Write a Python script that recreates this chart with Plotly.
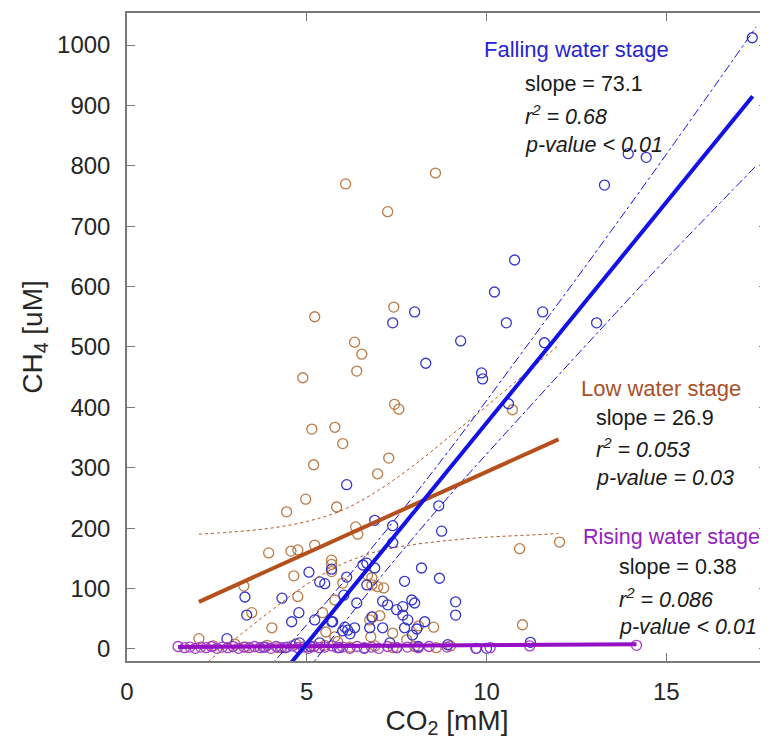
import plotly.graph_objects as go

# ---------------- data ----------------
fall_x = [17.39, 13.94, 14.44, 13.28, 10.78, 10.22, 10.55, 11.56, 13.06, 8.0, 7.39, 8.31, 9.28, 9.86,
          9.89, 11.61, 10.61, 6.11, 8.67, 8.75, 6.89, 7.39, 7.39, 8.19, 8.69, 7.72, 6.67, 6.89, 6.56,
          5.69, 5.06, 6.11, 5.36, 5.5, 6.67, 4.31, 3.28, 3.33, 4.78, 4.58, 5.22, 5.72, 6.03, 6.39,
          7.11, 7.25, 7.5, 7.67, 7.92, 8.0, 9.14, 9.14, 7.67, 7.81, 8.28, 8.06, 7.94, 7.72, 7.11,
          6.81, 6.75, 6.06, 6.14, 6.33, 5.69, 7.31, 2.78, 4.8, 5.36, 8.92, 9.72, 10.0, 11.22, 6.2,
          6.0, 3.8, 4.4, 5.1, 5.9, 6.6, 7.5, 8.1]
fall_y = [1012, 820, 814, 768, 644, 591, 540, 558, 540, 558, 540, 473, 510, 457,
          447, 507, 406, 272, 237, 195, 213, 204, 176, 134, 117, 112, 142, 134, 139,
          132, 127, 119, 111, 108, 106, 84, 86, 56, 60, 45, 48, 45, 89, 76,
          79, 73, 65, 70, 81, 76, 78, 56, 56, 48, 45, 33, 23, 35, 35,
          53, 35, 36, 31, 35, 45, 10, 17, 10, 10, 7, 1, 1, 11, 25,
          30, 3, 2, 4, 2, 1, 2, 4]

low_x = [6.08, 7.25, 8.58, 5.22, 7.42, 6.33, 6.53, 6.39, 4.89, 7.44, 7.56, 5.14, 5.78, 6.0, 5.19,
         7.28, 6.97, 4.97, 5.83, 4.44, 6.36, 6.42, 3.94, 4.56, 4.75, 5.22, 5.69, 5.69, 5.69, 4.64,
         3.25, 4.75, 3.47, 5.44, 4.03, 2.0, 6.0, 5.78, 6.69, 6.81, 6.81, 6.97, 7.14, 6.75, 6.83,
         7.03, 6.78, 7.39, 7.78, 8.11, 8.53, 5.78, 5.53, 5.86, 10.72, 10.92, 12.03, 11.0,
         2.4, 3.0, 3.3, 3.9, 4.2, 4.7, 5.0, 5.5, 6.2, 6.9, 7.4, 8.0, 8.6, 9.0]
low_y = [770, 724, 788, 550, 566, 508, 488, 460, 449, 405, 397, 364, 367, 340, 305,
         316, 290, 248, 235, 227, 202, 190, 159, 162, 164, 172, 147, 140, 128, 121,
         104, 87, 60, 60, 35, 17, 109, 81, 122, 118, 106, 103, 101, 48, 53,
         55, 20, 26, 15, 38, 36, 20, 28, 12, 396, 166, 177, 40,
         5, 8, 3, 6, 2, 8, 3, 6, 3, 5, 2, 4, 2, 5]

rise_x = [1.42, 1.6, 1.75, 1.9, 2.05, 2.2, 2.35, 2.5, 2.65, 2.8, 2.95, 3.1, 3.25, 3.4, 3.55, 3.7,
          3.85, 4.0, 4.15, 4.3, 4.45, 4.6, 4.75, 4.9, 5.05, 5.2, 5.35, 5.5, 5.7, 5.85, 6.0, 6.2,
          6.4, 6.6, 6.8, 7.0, 7.25, 7.5, 7.8, 8.1, 8.4, 8.9, 9.7, 10.1, 11.2, 14.17]
rise_y = [4, 2, 3, 1, 3, 2, 4, 1, 3, 2, 4, 1, 3, 2, 4, 2,
          3, 1, 4, 2, 3, 5, 2, 3, 1, 4, 2, 3, 5, 2, 3, 1,
          4, 2, 3, 1, 4, 2, 3, 2, 4, 3, 1, 2, 5, 6]

# regression lines (end points) and confidence bounds
fall_fit_x = [2.8, 17.4]
fall_fit_y = [-152, 915]
fall_band_x = [3.5, 5, 7, 9, 11, 13, 15, 17.5]
fall_band_hi = [-60, 40, 181, 332, 492, 654, 819, 1030]
fall_band_lo = [-156, -37, 115, 256, 388, 518, 646, 800]

low_fit_x = [2.0, 12.0]
low_fit_y = [78, 347]
low_band_x = [2, 3, 4, 5, 6, 7, 8, 9, 10, 11, 12]
low_band_hi = [190, 194, 200, 211, 230, 263, 305, 353, 402, 452, 503]
low_band_lo = [-34, 16, 63, 107, 141, 162, 173, 180, 185, 188, 191]

rise_fit_x = [1.42, 14.17]
rise_fit_y = [3.0, 7.9]

x_ticks = [0, 5, 10, 15]
y_ticks = [0, 100, 200, 300, 400, 500, 600, 700, 800, 900, 1000]

# ---------------- styling ----------------
BLUE_M = "#3535c8"
BLUE_L = "#1212e6"
BROWN_M = "#bb7a46"
BROWN_L = "#b5501c"
PURP_M = "#a43cc8"
PURP_L = "#9510c4"
FONT = "Liberation Sans, Arial, sans-serif"

fig = go.Figure()

fig.add_trace(go.Scatter(x=low_x, y=low_y, mode="markers",
                         marker=dict(symbol="circle-open", size=10, color=BROWN_M, line=dict(width=1.3))))
fig.add_trace(go.Scatter(x=fall_x, y=fall_y, mode="markers",
                         marker=dict(symbol="circle-open", size=10, color=BLUE_M, line=dict(width=1.3))))
fig.add_trace(go.Scatter(x=rise_x, y=rise_y, mode="markers",
                         marker=dict(symbol="circle-open", size=10, color=PURP_M, line=dict(width=1.3))))

# confidence bounds
for yy in (low_band_hi, low_band_lo):
    fig.add_trace(go.Scatter(x=low_band_x, y=yy, mode="lines", line_shape="spline",
                             line=dict(color=BROWN_L, width=1, dash="dot")))
for yy in (fall_band_hi, fall_band_lo):
    fig.add_trace(go.Scatter(x=fall_band_x, y=yy, mode="lines", line_shape="spline",
                             line=dict(color=BLUE_L, width=1, dash="dashdot")))

# fits
fig.add_trace(go.Scatter(x=rise_fit_x, y=rise_fit_y, mode="lines", line=dict(color=PURP_L, width=4)))
fig.add_trace(go.Scatter(x=low_fit_x, y=low_fit_y, mode="lines", line=dict(color=BROWN_L, width=4)))
fig.add_trace(go.Scatter(x=fall_fit_x, y=fall_fit_y, mode="lines", line=dict(color=BLUE_L, width=4)))

axis_common = dict(
    showgrid=False, zeroline=False, showline=True, linecolor="#7a7a7a", linewidth=1.5,
    mirror="ticks", ticks="inside", ticklen=8, tickcolor="#7a7a7a", tickwidth=1.2,
    tickfont=dict(family=FONT, size=24, color="#262626"),
)

fig.update_xaxes(range=[0, 17.8], tickvals=x_ticks, ticktext=[str(v) for v in x_ticks],
                 title=dict(text="CO<sub>2</sub> [mM]", font=dict(family=FONT, size=28, color="#262626"),
                            standoff=4),
                 ticklabelstandoff=8, **axis_common)
fig.update_yaxes(range=[-20, 1053], tickvals=y_ticks, ticktext=[str(v) for v in y_ticks],
                 title=dict(text="CH<sub>4</sub> [uM]", font=dict(family=FONT, size=28, color="#262626"),
                            standoff=6),
                 ticklabelstandoff=10, **axis_common)

ann = []
def add(text, x, y, color="#1a1a1a", italic=False, size=21.5):
    t = f"<i>{text}</i>" if italic else text
    ann.append(dict(text=t, x=x, y=y, xref="paper", yref="paper", xanchor="left", yanchor="middle",
                    showarrow=False, font=dict(family=FONT, size=size, color=color)))

add("Falling water stage", 0.555, 0.943, "#2525d0", size=22)
add("slope = 73.1", 0.619, 0.890)
add("r<sup>2</sup> = 0.68", 0.619, 0.843, italic=True)
add("p-value &lt; 0.01", 0.619, 0.796, italic=True)
add("Low water stage", 0.707, 0.421, "#a9502a", size=22)
add("slope = 26.9", 0.729, 0.375)
add("r<sup>2</sup> = 0.053", 0.729, 0.329, italic=True)
add("p-value = 0.03", 0.729, 0.282, italic=True)
add("Rising water stage", 0.709, 0.191, "#9520c0")
add("slope = 0.38", 0.766, 0.145)
add("r<sup>2</sup> = 0.086", 0.766, 0.097, italic=True)
add("p-value &lt; 0.01", 0.766, 0.052, italic=True)

# the page places the figure 8px from the top-left corner, so the figure is 8px smaller
fig.update_layout(
    width=760, height=734,
    margin=dict(l=119, r=1, t=5, b=81, autoexpand=False),
    plot_bgcolor="white", paper_bgcolor="white",
    showlegend=False, annotations=ann,
)

fig.write_html("out.html")
